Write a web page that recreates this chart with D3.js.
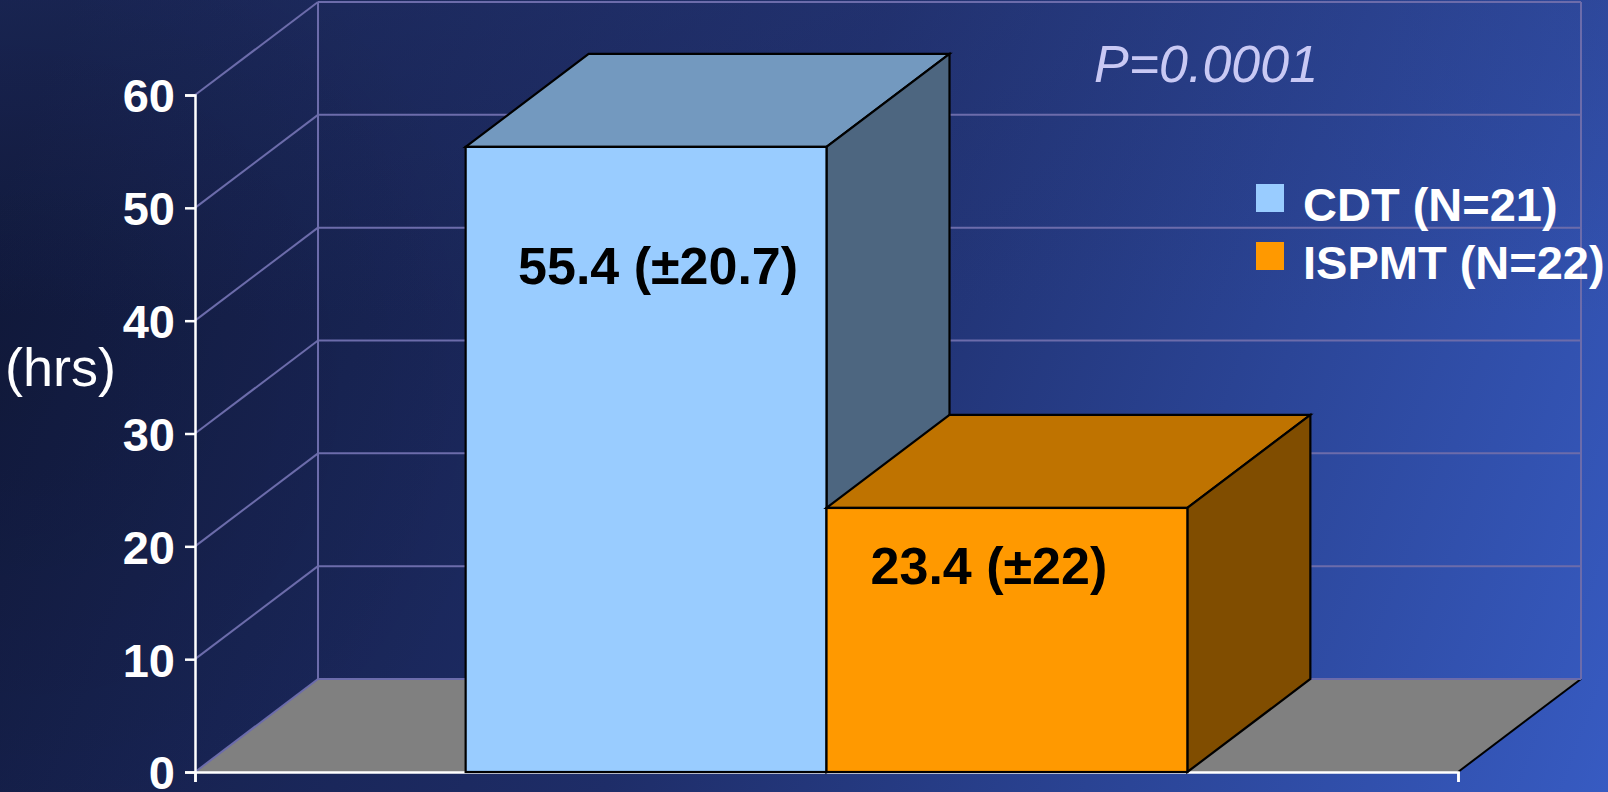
<!DOCTYPE html>
<html>
<head>
<meta charset="utf-8">
<script src="https://cdn.jsdelivr.net/npm/d3@7"></script>
<style>
  html, body { margin: 0; padding: 0; background: #16204a; }
  svg { display: block; }
  text { font-family: "Liberation Sans", Arial, sans-serif; }
</style>
</head>
<body>
<svg id="chart" width="1608" height="792"></svg>
<script>
// ---- data ----
const category = "Time to lysis";
const seriesNames = ["CDT (N=21)", "ISPMT (N=22)"];
const seriesValues = [55.4, 23.4];
const seriesSD = [20.7, 22];
const yTicks = [0, 10, 20, 30, 40, 50, 60];
const pValueText = "P=0.0001";
const unitLabel = "(hrs)";

// ---- styling / layout ----
const W = 1608, H = 792;
const faceColors = ["#99CCFF", "#FF9900"];
const gridColor = "#6c6cab";
const depth = { dx: 123, dy: -93 };          // 3-D depth projection of the plot box
const labelNudge = [[12, 137], [-18, 76]];   // data-label placement within each front face

const svg = d3.select("#chart");
const defs = svg.append("defs");

// background gradient: dark navy on the left to brighter blue at bottom-right
const bg = defs.append("linearGradient").attr("id", "bg")
  .attr("gradientUnits", "userSpaceOnUse")
  .attr("x1", 0).attr("y1", 200).attr("x2", W).attr("y2", H);
bg.append("stop").attr("offset", 0).attr("stop-color", "#121b40");
bg.append("stop").attr("offset", 0.45).attr("stop-color", "#1e2d68");
bg.append("stop").attr("offset", 1).attr("stop-color", "#375bc2");

const shade = defs.append("radialGradient").attr("id", "shade")
  .attr("gradientUnits", "userSpaceOnUse")
  .attr("cx", 0).attr("cy", 380).attr("r", 520);
shade.append("stop").attr("offset", 0).attr("stop-color", "#000").attr("stop-opacity", 0.12);
shade.append("stop").attr("offset", 1).attr("stop-color", "#000").attr("stop-opacity", 0);

const topGlow = defs.append("linearGradient").attr("id", "topGlow")
  .attr("x1", 0).attr("y1", 0).attr("x2", 0).attr("y2", 1);
topGlow.append("stop").attr("offset", 0).attr("stop-color", "#2a3c80").attr("stop-opacity", 0.3);
topGlow.append("stop").attr("offset", 0.4).attr("stop-color", "#2a3c80").attr("stop-opacity", 0);

svg.append("rect").attr("width", W).attr("height", H).attr("fill", "url(#bg)");
svg.append("rect").attr("width", W).attr("height", H).attr("fill", "url(#topGlow)");
svg.append("rect").attr("width", W).attr("height", H).attr("fill", "url(#shade)");

// ---- scales ----
const y = d3.scaleLinear().domain([0, 60]).range([772, 95]);
const xCat = d3.scaleBand().domain([category]).range([195, 1458]);
const xSeries = d3.scaleBand().domain(seriesNames)
  .range([xCat(category), xCat(category) + xCat.bandwidth()])
  .paddingInner(0).paddingOuter(0.75);

const x0 = xCat.range()[0], x1 = xCat.range()[1];
const y0 = y(0), yTop = y(60);
const back = (px, py) => [px + depth.dx, py + depth.dy];

// ---- floor ----
const floorPts = [[x0, y0], back(x0, y0), back(x1, y0), [x1, y0]];
svg.append("polygon").attr("points", floorPts.map(p => p.join(",")).join(" "))
  .attr("fill", "#808080");
svg.append("line")
  .attr("x1", x1).attr("y1", y0).attr("x2", back(x1, y0)[0]).attr("y2", back(x1, y0)[1])
  .attr("stroke", "#000").attr("stroke-width", 2);

// ---- gridlines: side wall diagonals + back wall horizontals ----
const grid = svg.append("g").attr("stroke", gridColor).attr("stroke-width", 2).attr("fill", "none");
yTicks.forEach(t => {
  const p = [x0, y(t)], b = back(x0, y(t)), e = back(x1, y(t));
  grid.append("line").attr("x1", p[0]).attr("y1", p[1]).attr("x2", b[0]).attr("y2", b[1]);
  grid.append("line").attr("x1", b[0]).attr("y1", b[1]).attr("x2", e[0]).attr("y2", e[1]);
});
[x0, x1].forEach(xx => {
  const a = back(xx, y0), b = back(xx, yTop);
  grid.append("line").attr("x1", a[0]).attr("y1", a[1]).attr("x2", b[0]).attr("y2", b[1]);
});

// ---- axes ----
const yAxis = d3.axisLeft(y).tickValues(yTicks).tickSize(10).tickPadding(10).tickFormat(d3.format("d"));
const gy = svg.append("g").attr("transform", `translate(${x0},0)`).call(yAxis);
gy.select(".domain").attr("stroke", "#fff").attr("stroke-width", 2.5);
gy.selectAll(".tick line").attr("stroke", "#fff").attr("stroke-width", 2.5);
gy.selectAll(".tick text")
  .attr("fill", "#fff").attr("font-size", 47).attr("font-weight", "bold")
  .attr("font-family", "'Liberation Sans', Arial, sans-serif")
  .attr("dy", "0.36em");

const xAxis = d3.axisBottom(d3.scaleLinear().domain([0, 1]).range([x0, x1]))
  .tickValues([0, 1]).tickSize(10).tickFormat("");
const gx = svg.append("g").attr("transform", `translate(0,${y0})`).call(xAxis);
gx.select(".domain").attr("stroke", "#fff").attr("stroke-width", 2.5);
gx.selectAll(".tick line").attr("stroke", "#fff").attr("stroke-width", 2.5);

// ---- 3-D bars ----
const shadeColor = (c, k) => {
  const r = d3.rgb(c);
  return d3.rgb(r.r * k, r.g * k, r.b * k).formatHex();
};
const bars = svg.append("g").attr("stroke", "#000").attr("stroke-width", 2.2).attr("stroke-linejoin", "miter");
seriesNames.forEach((name, i) => {
  const v = seriesValues[i];
  const L = xSeries(name), R = L + xSeries.bandwidth();
  const T = y(v), B = y(0);
  const poly = pts => pts.map(p => p.join(",")).join(" ");
  // top face
  bars.append("polygon")
    .attr("points", poly([[L, T], back(L, T), back(R, T), [R, T]]))
    .attr("fill", shadeColor(faceColors[i], 0.75));
  // side face
  bars.append("polygon")
    .attr("points", poly([[R, T], back(R, T), back(R, B), [R, B]]))
    .attr("fill", shadeColor(faceColors[i], 0.5));
  // front face
  bars.append("rect")
    .attr("x", L).attr("y", T).attr("width", R - L).attr("height", B - T)
    .attr("fill", faceColors[i]);
});

// ---- data labels ----
seriesNames.forEach((name, i) => {
  const L = xSeries(name), R = L + xSeries.bandwidth();
  svg.append("text")
    .attr("x", (L + R) / 2 + labelNudge[i][0])
    .attr("y", y(seriesValues[i]) + labelNudge[i][1])
    .attr("text-anchor", "middle")
    .attr("font-size", 52).attr("font-weight", "bold").attr("fill", "#000")
    .text(`${seriesValues[i]} (±${seriesSD[i]})`);
});

// ---- unit label ----
svg.append("text").attr("x", 5).attr("y", 386)
  .attr("font-size", 54).attr("fill", "#fff").text(unitLabel);

// ---- p-value ----
svg.append("text").attr("x", 1094).attr("y", 82)
  .attr("font-size", 52).attr("font-style", "italic").attr("fill", "#c9c9f4")
  .text(pValueText);

// ---- legend ----
const legend = svg.append("g").attr("transform", "translate(1256,184)");
seriesNames.forEach((name, i) => {
  const g = legend.append("g").attr("transform", `translate(0,${i * 58})`);
  g.append("rect").attr("width", 28).attr("height", 28).attr("fill", faceColors[i]);
  g.append("text").attr("x", 47).attr("y", 37)
    .attr("font-size", 47).attr("font-weight", "bold").attr("fill", "#fff").text(name);
});
</script>
</body>
</html>
